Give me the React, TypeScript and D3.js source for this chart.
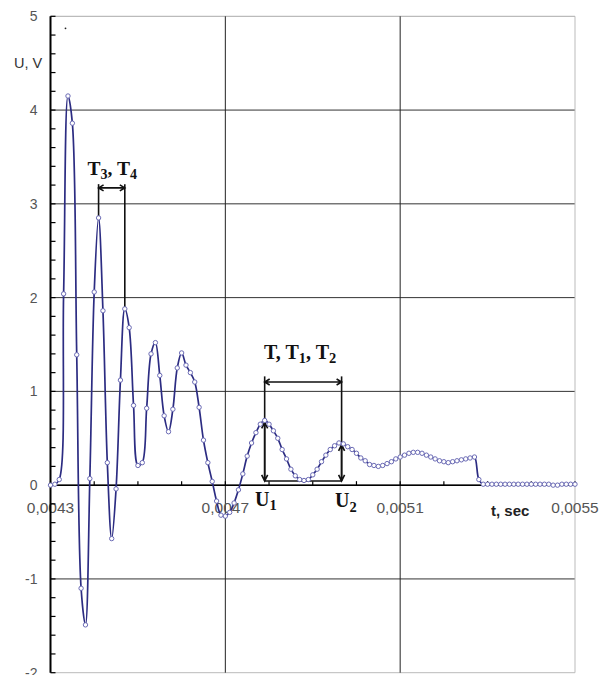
import React from "react";
import * as d3 from "d3";

// time samples: t0 + i * dt
const T_START = 0.0043;
const T_STEP = 0.00001;
const voltage: number[] = [
  0.0, 0.01, 0.06, 2.04, 4.15, 3.86, 1.39, -1.1, -1.49, 0.07,
  2.06, 2.85, 1.86, 0.24, -0.57, -0.04, 1.12, 1.88, 1.68, 0.85,
  0.21, 0.24, 0.82, 1.4, 1.52, 1.17, 0.74, 0.57, 0.81, 1.25,
  1.41, 1.28, 1.2, 1.1, 0.83, 0.48, 0.24, 0.04, -0.17, -0.32,
  -0.33, -0.29, -0.19, -0.05, 0.12, 0.31, 0.45, 0.56, 0.65, 0.69,
  0.65, 0.58, 0.5, 0.38, 0.28, 0.17, 0.1, 0.06, 0.05, 0.06,
  0.11, 0.17, 0.25, 0.32, 0.38, 0.42, 0.45, 0.44, 0.41, 0.38,
  0.34, 0.29, 0.26, 0.22, 0.21, 0.2, 0.21, 0.23, 0.25, 0.28,
  0.3, 0.32, 0.34, 0.35, 0.35, 0.34, 0.32, 0.3, 0.28, 0.26,
  0.25, 0.24, 0.25, 0.26, 0.27, 0.28, 0.29, 0.3, 0.06, 0.01,
  0.01, 0.01, 0.01, 0.01, 0.01, 0.01, 0.01, 0.01, 0.01, 0.01,
  0.01, 0.01, 0.01, 0.01, 0.01, 0.0, 0.0, 0.01, 0.01, 0.01,
  0.01,
];

const xTickValues = [0.0043, 0.0047, 0.0051, 0.0055];
const xTickLabels = ["0,0043", "0,0047", "0,0051", "0,0055"];
const yTickValues = [-2, -1, 0, 1, 2, 3, 4, 5];

// annotation anchors (data units)
const tT3 = 0.00441;
const tT4 = 0.00447;
const tT = 0.00479;
const tT2 = 0.004966;
const uPeak1 = 0.69;
const uPeak2 = 0.45;

const W = 606;
const H = 675;

export default function App() {
  const x = d3.scaleLinear().domain([0.0043, 0.0055]).range([50.5, 575]);
  const y = d3.scaleLinear().domain([-2, 5]).range([672.7, 16.3]);

  const pts = voltage.map((v, i) => ({ t: T_START + i * T_STEP, v }));
  const line = d3
    .line<{ t: number; v: number }>()
    .x((d) => x(d.t))
    .y((d) => y(d.v))
    .curve(d3.curveCatmullRom.alpha(0.5));

  const minorY = d3.range(-2, 5.001, 0.2);
  const minorX = d3.range(0, 13).map((k) => 0.0043 + k * 0.0001);

  const ink = "#111";
  const arrowH = (x1: number, x2: number, yy: number) => {
    const a = 5, b = 3;
    return `M${x1},${yy}L${x2},${yy}M${x1 + a},${yy - b}L${x1},${yy}L${x1 + a},${yy + b}M${x2 - a},${yy - b}L${x2},${yy}L${x2 - a},${yy + b}`;
  };
  const arrowV = (xx: number, y1: number, y2: number) => {
    const a = 6, b = 3;
    return `M${xx},${y1}L${xx},${y2}M${xx - b},${y1 + a}L${xx},${y1}L${xx + b},${y1 + a}M${xx - b},${y2 - a}L${xx},${y2}L${xx + b},${y2 - a}`;
  };

  const y0 = y(0);
  const serif = "'Liberation Serif', 'Times New Roman', serif";
  const sans = "'Liberation Sans', Arial, sans-serif";

  return (
    <svg
      width={W}
      height={H}
      style={{ position: "absolute", left: 0, top: 0, background: "#fff" }}
    >
      {/* horizontal grid */}
      {yTickValues
        .filter((v) => v > -2 && v < 5)
        .map((v) => (
          <line key={"gy" + v} x1={x(0.0043)} x2={x(0.0055)} y1={y(v)} y2={y(v)} stroke="#333" strokeWidth={1} />
        ))}
      <line x1={x(0.0043)} x2={x(0.0055)} y1={y(5)} y2={y(5)} stroke="#aaa" strokeWidth={1} />
      <line x1={x(0.0043)} x2={x(0.0055)} y1={y(-2)} y2={y(-2)} stroke="#bbb" strokeWidth={1} />
      {/* vertical grid */}
      {[0.0047, 0.0051].map((t) => (
        <line key={"gx" + t} x1={x(t)} x2={x(t)} y1={y(5)} y2={y(-2)} stroke="#222" strokeWidth={1} />
      ))}
      <line x1={x(0.0055)} x2={x(0.0055)} y1={y(5)} y2={y(-2)} stroke="#bbb" strokeWidth={1} />

      {/* tick labels */}
      {yTickValues.map((v) => (
        <text key={"yl" + v} x={37.5} y={y(v) + 5} textAnchor="end" fontFamily={sans} fontSize={14} fill="#555">
          {v}
        </text>
      ))}
      {xTickValues.map((t, i) => (
        <text key={"xl" + t} x={x(t)} y={513} textAnchor="middle" fontFamily={sans} fontSize={15.5} fill="#555">
          {xTickLabels[i]}
        </text>
      ))}
      <text x={14} y={68} fontFamily={sans} fontSize={14.5} fill="#333">U, V</text>
      <text x={491} y={516} fontFamily={sans} fontSize={15} fontWeight="bold" fill="#222">t, sec</text>
      <circle cx={65.5} cy={28.3} r={0.9} fill="#222" />

      {/* axes */}
      <line x1={x(0.0043)} x2={x(0.0043)} y1={y(5)} y2={y(-2)} stroke="#000" strokeWidth={2} />
      {minorY.map((v, i) => (
        <line key={"ty" + i} x1={x(0.0043)} x2={x(0.0043) + 5} y1={y(v)} y2={y(v)} stroke="#000" strokeWidth={1.2} />
      ))}
      <line x1={x(0.0043)} x2={x(0.0055)} y1={y0} y2={y0} stroke="#000" strokeWidth={1.5} />
      {minorX.map((t, i) => (
        <line key={"tx" + i} x1={x(t)} x2={x(t)} y1={y0} y2={y0 - 4} stroke="#000" strokeWidth={1.2} />
      ))}

      {/* annotations */}
      <g stroke={ink} strokeWidth={1.6} fill="none">
        <line x1={x(tT3)} x2={x(tT3)} y1={y(3.21)} y2={y(2.85)} />
        <line x1={x(tT4)} x2={x(tT4)} y1={y(3.21)} y2={y(1.88)} />
        <path d={arrowH(x(tT3), x(tT4), y(3.17))} />
        <line x1={x(tT)} x2={x(tT)} y1={y(1.16)} y2={y(0.045)} />
        <line x1={x(tT2)} x2={x(tT2)} y1={y(1.16)} y2={y(0.045)} />
        <path d={arrowH(x(tT), x(tT2), y(1.1))} />
        <path d={arrowV(x(tT), y(uPeak1 - 0.02), y(0.045))} />
        <path d={arrowV(x(tT2), y(uPeak2 - 0.02), y(0.045))} />
        <line x1={x(tT)} x2={x(tT2)} y1={y(0.045)} y2={y(0.045)} />
      </g>
      <g fontFamily={serif} fontWeight="bold" fill={ink}>
        <text x={87.5} y={175} fontSize={19.5}>
          T<tspan fontSize={14} dy={4}>3</tspan>
          <tspan dy={-4}>, T</tspan>
          <tspan fontSize={14} dy={4}>4</tspan>
        </text>
        <text x={264} y={359} fontSize={20}>
          T, T<tspan fontSize={14.5} dy={4}>1</tspan>
          <tspan dy={-4}>, T</tspan>
          <tspan fontSize={14.5} dy={4}>2</tspan>
        </text>
        <text x={255} y={506} fontSize={20}>
          U<tspan fontSize={14.5} dy={4}>1</tspan>
        </text>
        <text x={335} y={507} fontSize={20}>
          U<tspan fontSize={14.5} dy={5}>2</tspan>
        </text>
      </g>

      {/* series */}
      <path d={line(pts) || ""} fill="none" stroke="#2c2c82" strokeWidth={1.7} />
      {pts.map((p, i) => (
        <circle key={"p" + i} cx={x(p.t)} cy={y(p.v)} r={2.2} fill="#fff" stroke="#6b6bb5" strokeWidth={1} />
      ))}
    </svg>
  );
}
